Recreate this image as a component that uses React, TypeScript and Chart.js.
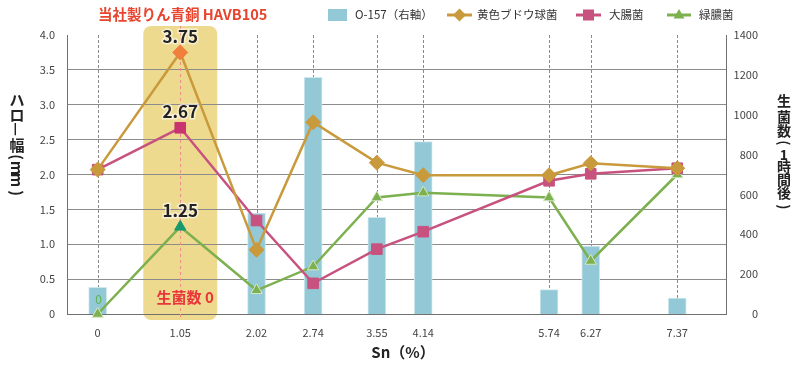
import React, { useEffect, useRef } from 'react';
import { Chart, registerables } from 'chart.js';

Chart.register(...registerables);

const snValues = [0, 1.05, 2.02, 2.74, 3.55, 4.14, 5.74, 6.27, 7.37];
const xTickLabels = ['0', '1.05', '2.02', '2.74', '3.55', '4.14', '5.74', '6.27', '7.37'];
const o157Counts = [134, 0, 507, 1187, 485, 865, 122, 341, 80];
const staphHalo = [2.07, 3.75, 0.92, 2.75, 2.17, 1.99, 1.99, 2.16, 2.09];
const ecoliHalo = [2.07, 2.67, 1.34, 0.44, 0.93, 1.18, 1.91, 2.01, 2.09];
const pseudoHalo = [0, 1.25, 0.34, 0.68, 1.67, 1.74, 1.67, 0.76, 2.0];
const seriesNames = ['O-157（右軸）', '黄色ブドウ球菌', '大腸菌', '緑膿菌'];
const chartTitle = '当社製りん青銅 HAVB105';
const highlightLabel = '生菌数 0';
const leftAxisTitle = ['ハ', 'ロ', 'ー', '幅', '(', 'm', 'm', ')'];
const rightAxisTitle = ['生', '菌', '数', '(', '1', '時', '間', '後', ')'];
const xAxisTitle = 'Sn（%）';
const highlightIndex = 1;

const FONT = '"Noto Sans CJK JP", "Noto Sans", sans-serif';
const C_BAR = '#93C9D6';
const C_GOLD = '#C99A3C';
const C_PINK = '#C8527F';
const C_GREEN = '#7DB04F';

function pts(vals: number[]) {
  return vals.map((v, i) => ({ x: snValues[i], y: v }));
}

const decorPlugin = {
  id: 'decor',
  beforeDraw(chart: any) {
    const ctx = chart.ctx;
    const xs = chart.scales.x;
    const ca = chart.chartArea;
    const px = xs.getPixelForValue(snValues[highlightIndex]);
    ctx.save();
    ctx.fillStyle = '#EEDA8E';
    ctx.beginPath();
    (ctx as any).roundRect(px - 37, ca.top - 9, 74, ca.bottom - ca.top + 15, 8);
    ctx.fill();
    ctx.restore();
  },
  beforeDatasetsDraw(chart: any) {
    const ctx = chart.ctx;
    const xs = chart.scales.x;
    const ca = chart.chartArea;
    ctx.save();
    snValues.forEach((v, i) => {
      const px = Math.round(xs.getPixelForValue(v)) + 0.5;
      ctx.beginPath();
      if (i === highlightIndex) {
        ctx.strokeStyle = '#F08C8C';
        ctx.setLineDash([3, 3]);
        ctx.moveTo(px, ca.top - 9);
        ctx.lineTo(px, ca.bottom + 6);
      } else {
        ctx.strokeStyle = '#8A8A8A';
        ctx.setLineDash([3, 2]);
        ctx.moveTo(px, ca.top);
        ctx.lineTo(px, ca.bottom);
      }
      ctx.lineWidth = 1;
      ctx.stroke();
    });
    ctx.restore();
  },
  afterDraw(chart: any) {
    const ctx = chart.ctx;
    const xs = chart.scales.x;
    const ys = chart.scales.y;
    ctx.save();
    ctx.textAlign = 'center';
    ctx.textBaseline = 'middle';
    ctx.font = 'bold 17px ' + FONT;
    [staphHalo, ecoliHalo, pseudoHalo].forEach((arr) => {
      const v = arr[highlightIndex];
      const px = xs.getPixelForValue(snValues[highlightIndex]);
      const py = ys.getPixelForValue(v) - 16;
      const t = v.toFixed(2);
      ctx.lineWidth = 3;
      ctx.strokeStyle = 'rgba(255,255,255,0.6)';
      ctx.strokeText(t, px, py);
      ctx.fillStyle = '#222';
      ctx.fillText(t, px, py);
    });
    ctx.font = 'bold 15px ' + FONT;
    ctx.fillStyle = '#E8363A';
    ctx.fillText(highlightLabel, xs.getPixelForValue(snValues[highlightIndex]) + 5, chart.chartArea.bottom - 17);
    ctx.font = '12px ' + FONT;
    ctx.fillStyle = '#5DB54E';
    ctx.fillText(String(pseudoHalo[0]), xs.getPixelForValue(snValues[0]) + 1, chart.chartArea.bottom - 15);

    ctx.textAlign = 'left';
    ctx.font = 'bold 14.5px ' + FONT;
    ctx.fillStyle = '#E8442E';
    ctx.fillText(chartTitle, 98, 14);

    const ly = 15;
    ctx.font = '11.5px ' + FONT;
    ctx.fillStyle = C_BAR;
    ctx.fillRect(328, 9, 19, 12);
    ctx.fillStyle = '#333';
    ctx.fillText(seriesNames[0], 355, ly);
    ctx.strokeStyle = C_GOLD;
    ctx.lineWidth = 3;
    ctx.beginPath(); ctx.moveTo(447, ly); ctx.lineTo(472, ly); ctx.stroke();
    ctx.fillStyle = C_GOLD;
    ctx.beginPath();
    ctx.moveTo(459.5, ly - 6.5); ctx.lineTo(466, ly); ctx.lineTo(459.5, ly + 6.5); ctx.lineTo(453, ly);
    ctx.closePath(); ctx.fill();
    ctx.fillStyle = '#333';
    ctx.fillText(seriesNames[1], 477, ly);
    ctx.strokeStyle = C_PINK;
    ctx.beginPath(); ctx.moveTo(576, ly); ctx.lineTo(601, ly); ctx.stroke();
    ctx.fillStyle = C_PINK;
    ctx.fillRect(583, ly - 5.5, 11, 11);
    ctx.fillStyle = '#333';
    ctx.fillText(seriesNames[2], 609, ly);
    ctx.strokeStyle = C_GREEN;
    ctx.beginPath(); ctx.moveTo(667, ly); ctx.lineTo(691, ly); ctx.stroke();
    ctx.fillStyle = C_GREEN;
    ctx.beginPath();
    ctx.moveTo(679, ly - 6); ctx.lineTo(684.5, ly + 3.5); ctx.lineTo(673.5, ly + 3.5);
    ctx.closePath(); ctx.fill();
    ctx.fillStyle = '#333';
    ctx.fillText(seriesNames[3], 699, ly);

    ctx.textAlign = 'center';
    ctx.font = 'bold 15px ' + FONT;
    ctx.fillStyle = '#222';
    ctx.fillText(xAxisTitle, 403, 352);

    const leftY = [100, 115, 129, 145, 157, 168, 180, 193];
    const rightY = [101, 117, 131, 143, 155, 167, 180, 193, 207];
    const drawVert = (chars: string[], ys2: number[], x: number) => {
      chars.forEach((ch, i) => {
        const rot = /[a-z()ー]/.test(ch);
        ctx.save();
        ctx.translate(x, ys2[i]);
        if (rot) ctx.rotate(Math.PI / 2);
        ctx.fillText(ch === 'ー' ? '—' : ch, 0, 0);
        ctx.restore();
      });
    };
    ctx.font = 'bold 15px ' + FONT;
    drawVert(leftAxisTitle, leftY, 17);
    ctx.font = 'bold 14px ' + FONT;
    drawVert(rightAxisTitle, rightY, 784);
    ctx.restore();
  },
};

export default function App() {
  const ref = useRef<HTMLCanvasElement | null>(null);
  useEffect(() => {
    document.body.style.margin = '0';
    if (!ref.current) return;
    const pointColors = (base: string, hi: string) => snValues.map((_, i) => (i === highlightIndex ? hi : base));
    const chart = new Chart(ref.current, {
      type: 'bar',
      data: {
        datasets: [
          {
            type: 'line',
            label: seriesNames[1],
            data: pts(staphHalo),
            yAxisID: 'y',
            borderColor: C_GOLD,
            borderWidth: 2.5,
            pointStyle: 'rectRot',
            pointRadius: 7.5,
            pointBackgroundColor: pointColors(C_GOLD, '#F07E3C'),
            pointBorderColor: pointColors(C_GOLD, '#F07E3C'),
            pointBorderWidth: 1,
            clip: false,
            order: 0,
          } as any,
          {
            type: 'line',
            label: seriesNames[2],
            data: pts(ecoliHalo),
            yAxisID: 'y',
            borderColor: C_PINK,
            borderWidth: 2.5,
            pointStyle: 'rect',
            pointRadius: 7.5,
            pointBackgroundColor: pointColors(C_PINK, '#C83370'),
            pointBorderColor: pointColors(C_PINK, '#C83370'),
            pointBorderWidth: 1,
            clip: false,
            order: 1,
          } as any,
          {
            type: 'line',
            label: seriesNames[3],
            data: pts(pseudoHalo),
            yAxisID: 'y',
            borderColor: C_GREEN,
            borderWidth: 2.5,
            pointStyle: 'triangle',
            pointRadius: 6.5,
            pointBackgroundColor: pointColors(C_GREEN, '#17996E'),
            pointBorderColor: pointColors('#D5E8C4', '#17996E'),
            pointBorderWidth: 1,
            clip: false,
            order: 2,
          } as any,
          {
            type: 'bar',
            label: seriesNames[0],
            data: pts(o157Counts),
            yAxisID: 'y1',
            backgroundColor: C_BAR,
            borderColor: '#CFE8EE',
            borderWidth: 1,
            borderSkipped: 'bottom',
            barThickness: 18,
            order: 10,
          } as any,
        ],
      },
      options: {
        animation: false,
        responsive: false,
        maintainAspectRatio: false,
        layout: { padding: { top: 35, left: 0, right: 42, bottom: 0 } },
        plugins: { legend: { display: false }, tooltip: { enabled: false }, title: { display: false } },
        scales: {
          x: {
            type: 'linear',
            min: -0.39,
            max: 7.99,
            offset: false,
            grid: { display: false, offset: false },
            border: { display: true, color: '#707070', width: 1 },
            afterBuildTicks: (s: any) => {
              s.ticks = snValues.map((v) => ({ value: v }));
            },
            afterFit: (s: any) => {
              s.height = 53;
            },
            ticks: {
              autoSkip: false,
              maxRotation: 0,
              padding: 4,
              color: '#444',
              font: { family: FONT, size: 11 },
              callback: (_v: any, i: number) => xTickLabels[i],
            },
          },
          y: {
            type: 'linear',
            position: 'left',
            min: 0,
            max: 4,
            afterFit: (s: any) => {
              s.width = 67;
            },
            grid: {
              drawTicks: false,
              color: (c: any) => (c.tick && c.tick.value >= 4 ? 'rgba(0,0,0,0)' : '#8C8C8C'),
              lineWidth: 1,
            },
            border: { display: true, color: '#707070', width: 1 },
            ticks: {
              stepSize: 0.5,
              padding: 12,
              color: '#444',
              font: { family: FONT, size: 11 },
              callback: (v: any) => (Number(v) === 0 ? '0' : Number(v).toFixed(1)),
            },
          },
          y1: {
            type: 'linear',
            position: 'right',
            min: 0,
            max: 1400,
            afterFit: (s: any) => {
              s.width = 32;
            },
            grid: { display: false, drawTicks: false },
            border: { display: true, color: '#707070', width: 1 },
            ticks: {
              stepSize: 200,
              padding: 4,
              crossAlign: 'far',
              color: '#444',
              font: { family: FONT, size: 11 },
              callback: (v: any) => String(v),
            },
          },
        },
      },
      plugins: [decorPlugin],
    } as any);
    return () => chart.destroy();
  }, []);
  return (
    <div style={{ position: 'absolute', left: 0, top: 0, width: 800, height: 367, background: '#fff' }}>
      <canvas ref={ref} width={800} height={367} style={{ width: 800, height: 367, display: 'block' }} />
    </div>
  );
}
